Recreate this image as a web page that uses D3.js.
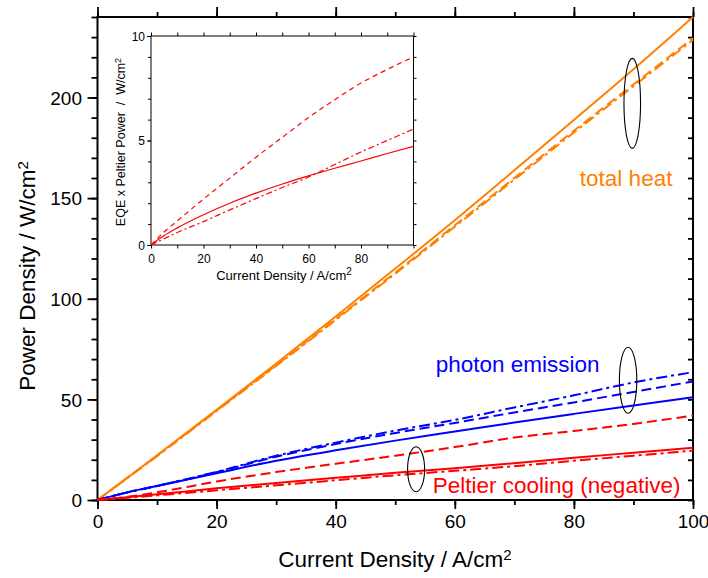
<!DOCTYPE html>
<html><head><meta charset="utf-8">
<script src="https://cdn.jsdelivr.net/npm/d3@7"></script>
<style>
body{margin:0;background:#fff}
svg{display:block}
text{font-family:"Liberation Sans",Arial,sans-serif}
</style></head><body>
<svg id="c" width="708" height="578"></svg>
<script>
// ---------- data ----------
const current = [0,5,10,20,30,40,50,60,70,80,90,100];
const heatSolid     = [0,11,22.2,44.8,67.8,91.2,115,139,163.8,188.8,214,240];
const heatDashed    = [0,11,22,44.5,67,90,113,136.5,160,183.5,206.5,229.5];
const heatDashDot   = [0,10.9,21.8,44.2,66.6,89.5,112.4,135.8,159.2,182.6,205.6,228.6];
const photonSolid   = [0,3.8,7,13.3,19.5,24.7,29.5,34,38.5,42.8,47,51.1];
const photonDashed  = [0,3.8,7,13.8,21.5,27.8,33.3,38.3,43.5,48.5,53.7,58.9];
const photonDashDot = [0,3.7,7,14,22,28.5,34.5,39.8,46,52,58.4,63.5];
const peltierSolid  = [0,1.4,2.8,5.8,8.5,11,13.5,15.8,18.3,21,23.5,26];
const peltierDashed = [0,1.6,3.8,9.2,13.9,18,22,26.3,31,34.3,37.8,42];
const peltierDashDot= [0,1.1,2.3,4.8,7.3,9.8,12.3,14.5,16.8,19.5,22,24.5];

const insetCurrent  = [0,5,10,20,30,40,50,60,70,80,90,100];
const eqeSolid      = [0,0.45,0.82,1.45,2.0,2.48,2.92,3.31,3.67,4.02,4.38,4.72];
const eqeDashed     = [0,0.62,1.15,2.2,3.2,4.2,5.15,6.1,6.95,7.75,8.4,9.0];
const eqeDashDot    = [0,0.3,0.6,1.12,1.68,2.22,2.75,3.25,3.85,4.45,5.0,5.55];

const xMajor = [0,20,40,60,80,100];
const xMinor = [0,10,20,30,40,50,60,70,80,90,100];
const yMajor = [0,50,100,150,200];
const yMinor = [0,10,20,30,40,50,60,70,80,90,100,110,120,130,140,150,160,170,180,190,200,210,220,230,240];
const insetXLabels = [0,20,40,60,80];
const insetYMajor = [0,5,10];
const insetYMinor = [0,1,2,3,4,5,6,7,8,9,10];

// annotation ellipses: [x, y] in data units
const ellipses = [[89.8,197.1,8.3,45],[89.1,59.5,8.7,33],[53.5,15.3,8.5,22.5]];
const labels = [
  {text:"total heat", x:81.0, color:"#FF8000"},
  {text:"photon emission", x:56.8, color:"#0000FF"},
  {text:"Peltier cooling (negative)", x:56.3, color:"#FF0000"}
];

// ---------- drawing ----------
const svg = d3.select("#c");
const x = d3.scaleLinear().domain([0,100]).range([97.5,693]);
const y = d3.scaleLinear().domain([0,240]).range([500,17]);

const ORANGE="#FF8000", BLUE="#0000FF", RED="#FF0000";
const DASH="10,5", DASHDOT="11,4,3,4";

function axisStyle(g){
  g.select(".domain").remove();
  g.selectAll("line").attr("stroke","#000").attr("stroke-width",1.8);
  g.selectAll("text").attr("fill","#000");
}

// main axes
svg.append("g").attr("transform","translate(0,500)")
  .call(d3.axisBottom(x).tickValues(xMinor).tickSize(5).tickFormat("")).call(axisStyle);
const bx = svg.append("g").attr("transform","translate(0,500)")
  .call(d3.axisBottom(x).tickValues(xMajor).tickSize(9).tickFormat(d3.format("d"))).call(axisStyle);
bx.selectAll("text").attr("y",28).attr("dy",null).style("font-size","19px");

svg.append("g").attr("transform","translate(0,17)")
  .call(d3.axisTop(x).tickValues(xMinor).tickSize(5).tickFormat("")).call(axisStyle);
svg.append("g").attr("transform","translate(0,17)")
  .call(d3.axisTop(x).tickValues(xMajor).tickSize(10).tickFormat("")).call(axisStyle);

svg.append("g").attr("transform","translate(97.5,0)")
  .call(d3.axisLeft(y).tickValues(yMinor).tickSize(6).tickFormat("")).call(axisStyle);
const ly = svg.append("g").attr("transform","translate(97.5,0)")
  .call(d3.axisLeft(y).tickValues(yMajor).tickSize(10).tickFormat(d3.format("d"))).call(axisStyle);
ly.selectAll("text").attr("x",-15.5).attr("dy","0.35em").style("font-size","19px");

svg.append("g").attr("transform","translate(693,0)")
  .call(d3.axisRight(y).tickValues(yMinor).tickSize(-5).tickFormat("")).call(axisStyle);

svg.append("rect").attr("x",97.5).attr("y",17).attr("width",693-97.5).attr("height",483)
  .attr("fill","none").attr("stroke","#000").attr("stroke-width",2);

// axis titles
const xt = svg.append("text").attr("x",395).attr("y",567).attr("text-anchor","middle")
  .style("font-size","22.5px").text("Current Density / A/cm");
xt.append("tspan").attr("dy","-0.5em").style("font-size","15px").text("2");
const yt = svg.append("text").attr("transform","translate(35,276) rotate(-90)")
  .attr("text-anchor","middle").style("font-size","22.5px").text("Power Density / W/cm");
yt.append("tspan").attr("dy","-0.5em").style("font-size","15px").text("2");

// main series
const line = d3.line().x((d,i)=>x(current[i])).y(d=>y(d)).curve(d3.curveMonotoneX);
const series = [
  [heatSolid,ORANGE,null],[heatDashed,ORANGE,DASH],[heatDashDot,ORANGE,DASHDOT],
  [photonSolid,BLUE,null],[photonDashed,BLUE,DASH],[photonDashDot,BLUE,DASHDOT],
  [peltierSolid,RED,null],[peltierDashed,RED,DASH],[peltierDashDot,RED,DASHDOT]
];
series.forEach(([vals,col,dash])=>{
  svg.append("path").datum(vals).attr("d",line).attr("fill","none")
    .attr("stroke",col).attr("stroke-width",2).attr("stroke-dasharray",dash);
});

// ellipses
ellipses.forEach(([cx,cy,rx,ry])=>{
  svg.append("ellipse").attr("cx",x(cx)).attr("cy",y(cy)).attr("rx",rx).attr("ry",ry)
    .attr("fill","none").attr("stroke","#000").attr("stroke-width",1.1);
});

// labels (baselines in pixels)
const labelBase = [185.7, 371.5, 493];
labels.forEach((l,i)=>{
  svg.append("text").attr("x",x(l.x)).attr("y",labelBase[i]).attr("fill",l.color)
    .style("font-size","22.5px").text(l.text);
});

// ---------- inset ----------
const ix = d3.scaleLinear().domain([0,100]).range([151,413.5]);
const iy = d3.scaleLinear().domain([0,10]).range([245,36]);
svg.append("rect").attr("x",151).attr("y",36).attr("width",262.5).attr("height",209).attr("fill","#fff");

function insetStyle(g){
  g.select(".domain").remove();
  g.selectAll("line").attr("stroke","#000").attr("stroke-width",1);
  g.selectAll("text").attr("fill","#000").style("font-size","12px");
}
const ibx = svg.append("g").attr("transform","translate(0,245)")
  .call(d3.axisBottom(ix).tickValues(xMinor).tickSize(3.5)
    .tickFormat(d=>insetXLabels.includes(d)?d:"")).call(insetStyle);
ibx.selectAll("text").attr("y",18).attr("dy",null);
svg.append("g").attr("transform","translate(0,36)")
  .call(d3.axisTop(ix).tickValues(xMinor).tickSize(3.5).tickFormat("")).call(insetStyle);
svg.append("g").attr("transform","translate(151,0)")
  .call(d3.axisLeft(iy).tickValues(insetYMinor).tickSize(3).tickFormat("")).call(insetStyle);
const ily = svg.append("g").attr("transform","translate(151,0)")
  .call(d3.axisLeft(iy).tickValues(insetYMajor).tickSize(4).tickFormat(d3.format("d"))).call(insetStyle);
ily.selectAll("text").attr("x",-6).attr("dy","0.35em");
svg.append("g").attr("transform","translate(413.5,0)")
  .call(d3.axisRight(iy).tickValues(insetYMinor).tickSize(3).tickFormat("")).call(insetStyle);
svg.append("rect").attr("x",151).attr("y",36).attr("width",262.5).attr("height",209)
  .attr("fill","none").attr("stroke","#000").attr("stroke-width",1);

const iline = d3.line().x((d,i)=>ix(insetCurrent[i])).y(d=>iy(d)).curve(d3.curveMonotoneX);
[[eqeSolid,null],[eqeDashed,"5,4"],[eqeDashDot,"6,3,2,3"]].forEach(([vals,dash])=>{
  svg.append("path").datum(vals).attr("d",iline).attr("fill","none")
    .attr("stroke",RED).attr("stroke-width",1.2).attr("stroke-dasharray",dash);
});

const ixt = svg.append("text").attr("x",284).attr("y",280).attr("text-anchor","middle")
  .style("font-size","13px").text("Current Density / A/cm");
ixt.append("tspan").attr("dy","-0.5em").style("font-size","10px").text("2");
const iyt = svg.append("text").attr("transform","translate(125,142) rotate(-90)")
  .attr("text-anchor","middle").style("font-size","12.5px").attr("xml:space","preserve")
  .text("EQE x Peltier Power  /  W/cm");
iyt.append("tspan").attr("dy","-0.5em").style("font-size","9px").text("2");
</script>
</body></html>
